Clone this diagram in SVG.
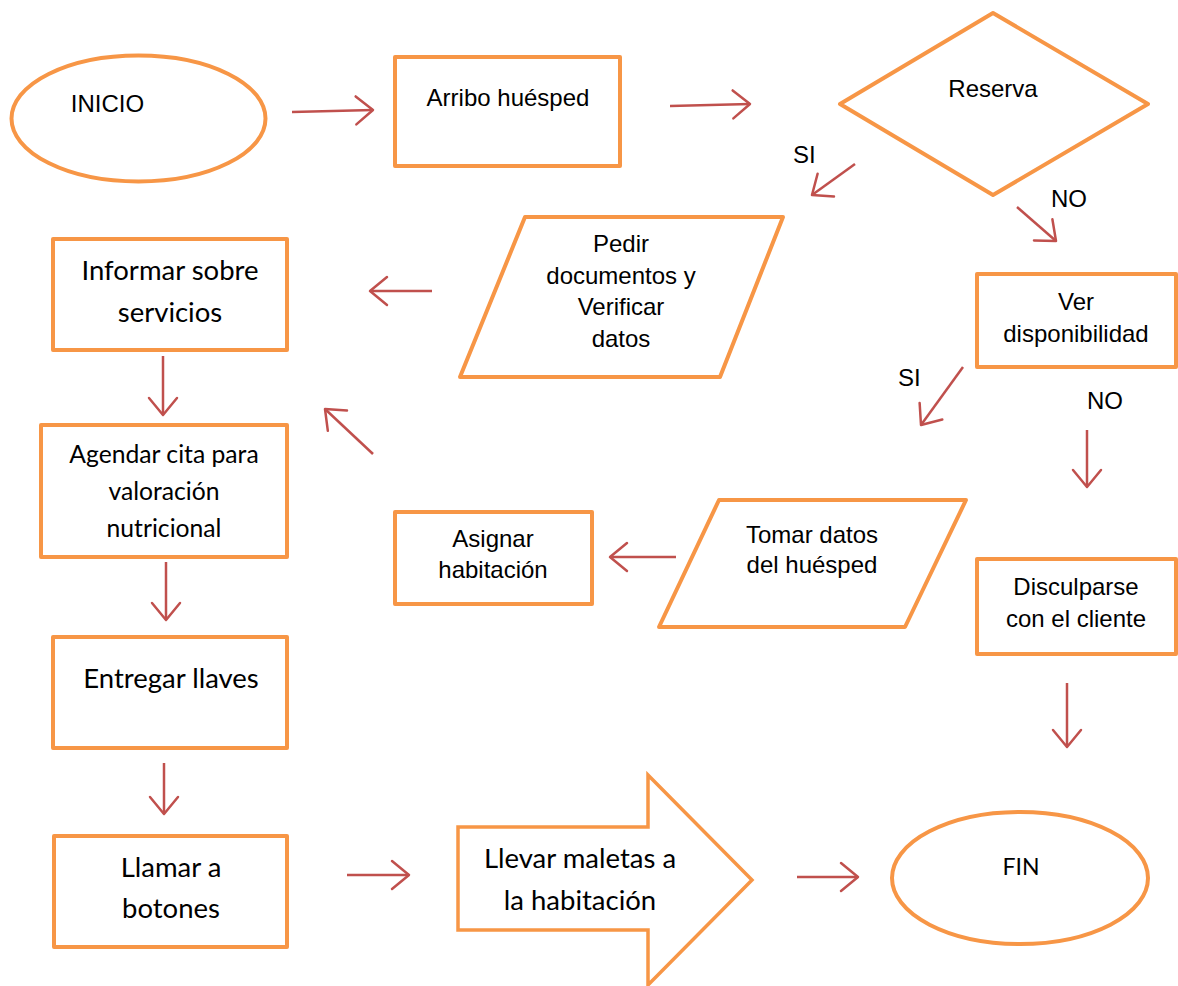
<svg xmlns="http://www.w3.org/2000/svg" width="1178" height="986" viewBox="0 0 1178 986">
<defs>
<style>
.shape{fill:#ffffff;stroke:#F79646;stroke-width:4;stroke-linejoin:round}
.blk{fill:#ffffff;stroke:#F79646;stroke-width:3.5;stroke-linejoin:miter}
.a{font-family:"Liberation Sans",Arial,sans-serif;font-size:24px;fill:#000;text-anchor:middle}
.c{font-family:Lato,"Open Sans",sans-serif;font-size:27.5px;fill:#000;text-anchor:middle}
.conn line{stroke:#C0504D;stroke-width:2.5;fill:none;marker-end:url(#arr)}
</style>
<marker id="arr" markerUnits="userSpaceOnUse" viewBox="-20 -16 24 32" refX="0" refY="0" markerWidth="24" markerHeight="32" orient="auto" overflow="visible">
<path d="M-17,-14 L0,0 L-17,14" fill="none" stroke="#C0504D" stroke-width="2.5" stroke-linecap="round" stroke-linejoin="round"/>
</marker>
</defs>
<rect width="1178" height="986" fill="#ffffff"/>

<g id="inicio">
<ellipse class="shape" cx="138.5" cy="118.5" rx="127" ry="63"/>
<text class="a" x="107.5" y="112">INICIO</text>
</g>
<g id="arribo">
<rect class="shape" x="395" y="57" width="225" height="109"/>
<text class="a" x="508" y="106">Arribo huésped</text>
</g>
<g id="reserva">
<polygon class="shape" points="993,13 1148,104 993,195 840,104"/>
<text class="a" x="993" y="97">Reserva</text>
</g>
<g id="pedir">
<polygon class="shape" points="525,217 783,217 720,377 460,377"/>
<text class="a" x="621" y="252">Pedir</text>
<text class="a" x="621" y="284">documentos y</text>
<text class="a" x="621" y="315">Verificar</text>
<text class="a" x="621" y="347">datos</text>
</g>
<g id="informar">
<rect class="shape" x="53" y="239" width="234" height="111"/>
<text class="c" x="170" y="280">Informar sobre</text>
<text class="c" x="170" y="322">servicios</text>
</g>
<g id="ver">
<rect class="shape" x="977" y="274" width="199" height="93"/>
<text class="a" x="1076" y="310">Ver</text>
<text class="a" x="1076" y="342">disponibilidad</text>
</g>
<g id="agendar">
<rect class="shape" x="41" y="425" width="246" height="132"/>
<text class="c" x="164" y="463" style="font-size:24.7px">Agendar cita para</text>
<text class="c" x="164" y="500" style="font-size:24.7px">valoración</text>
<text class="c" x="164" y="537" style="font-size:24.7px">nutricional</text>
</g>
<g id="asignar">
<rect class="shape" x="395" y="512" width="197" height="92"/>
<text class="a" x="493" y="547">Asignar</text>
<text class="a" x="493" y="578">habitación</text>
</g>
<g id="tomar">
<polygon class="shape" points="719,500 966,500 905,627 659,627"/>
<text class="a" x="812" y="543">Tomar datos</text>
<text class="a" x="812" y="573">del huésped</text>
</g>
<g id="disculparse">
<rect class="shape" x="977" y="559" width="199" height="95"/>
<text class="a" x="1076" y="595">Disculparse</text>
<text class="a" x="1076" y="627">con el cliente</text>
</g>
<g id="entregar">
<rect class="shape" x="53" y="637" width="234" height="111"/>
<text class="c" x="171" y="688">Entregar llaves</text>
</g>
<g id="llamar">
<rect class="shape" x="54" y="836" width="233" height="111"/>
<text class="c" x="171" y="877">Llamar a</text>
<text class="c" x="171" y="918">botones</text>
</g>
<g id="llevar">
<polygon class="blk" points="458,827 648,827 648,775 752,880 648,985 648,930 458,930"/>
<text class="c" x="580" y="868">Llevar maletas a</text>
<text class="c" x="580" y="910">la habitación</text>
</g>
<g id="fin">
<ellipse class="shape" cx="1020" cy="878" rx="128" ry="66"/>
<text class="c" x="1021" y="875" style="font-size:23px">FIN</text>
</g>

<g id="labels">
<text class="a" x="793" y="163" style="text-anchor:start">SI</text>
<text class="a" x="1051" y="207" style="text-anchor:start">NO</text>
<text class="a" x="898" y="386" style="text-anchor:start">SI</text>
<text class="a" x="1087" y="409" style="text-anchor:start">NO</text>
</g>

<g id="connectors" class="conn">
<line x1="292" y1="112" x2="373" y2="110"/>
<line x1="670" y1="106" x2="750" y2="104"/>
<line x1="855" y1="164" x2="812" y2="195"/>
<line x1="1017" y1="207" x2="1056" y2="241"/>
<line x1="432" y1="291" x2="370" y2="291"/>
<line x1="963" y1="367" x2="921" y2="425"/>
<line x1="1087" y1="430" x2="1087" y2="487"/>
<line x1="676" y1="557" x2="610" y2="557"/>
<line x1="373" y1="454" x2="325" y2="409"/>
<line x1="163" y1="356" x2="163" y2="415"/>
<line x1="166" y1="562" x2="166" y2="620"/>
<line x1="164" y1="763" x2="164" y2="814"/>
<line x1="347" y1="875" x2="409" y2="875"/>
<line x1="797" y1="877" x2="858" y2="877"/>
<line x1="1067" y1="683" x2="1067" y2="747"/>
</g>
</svg>
